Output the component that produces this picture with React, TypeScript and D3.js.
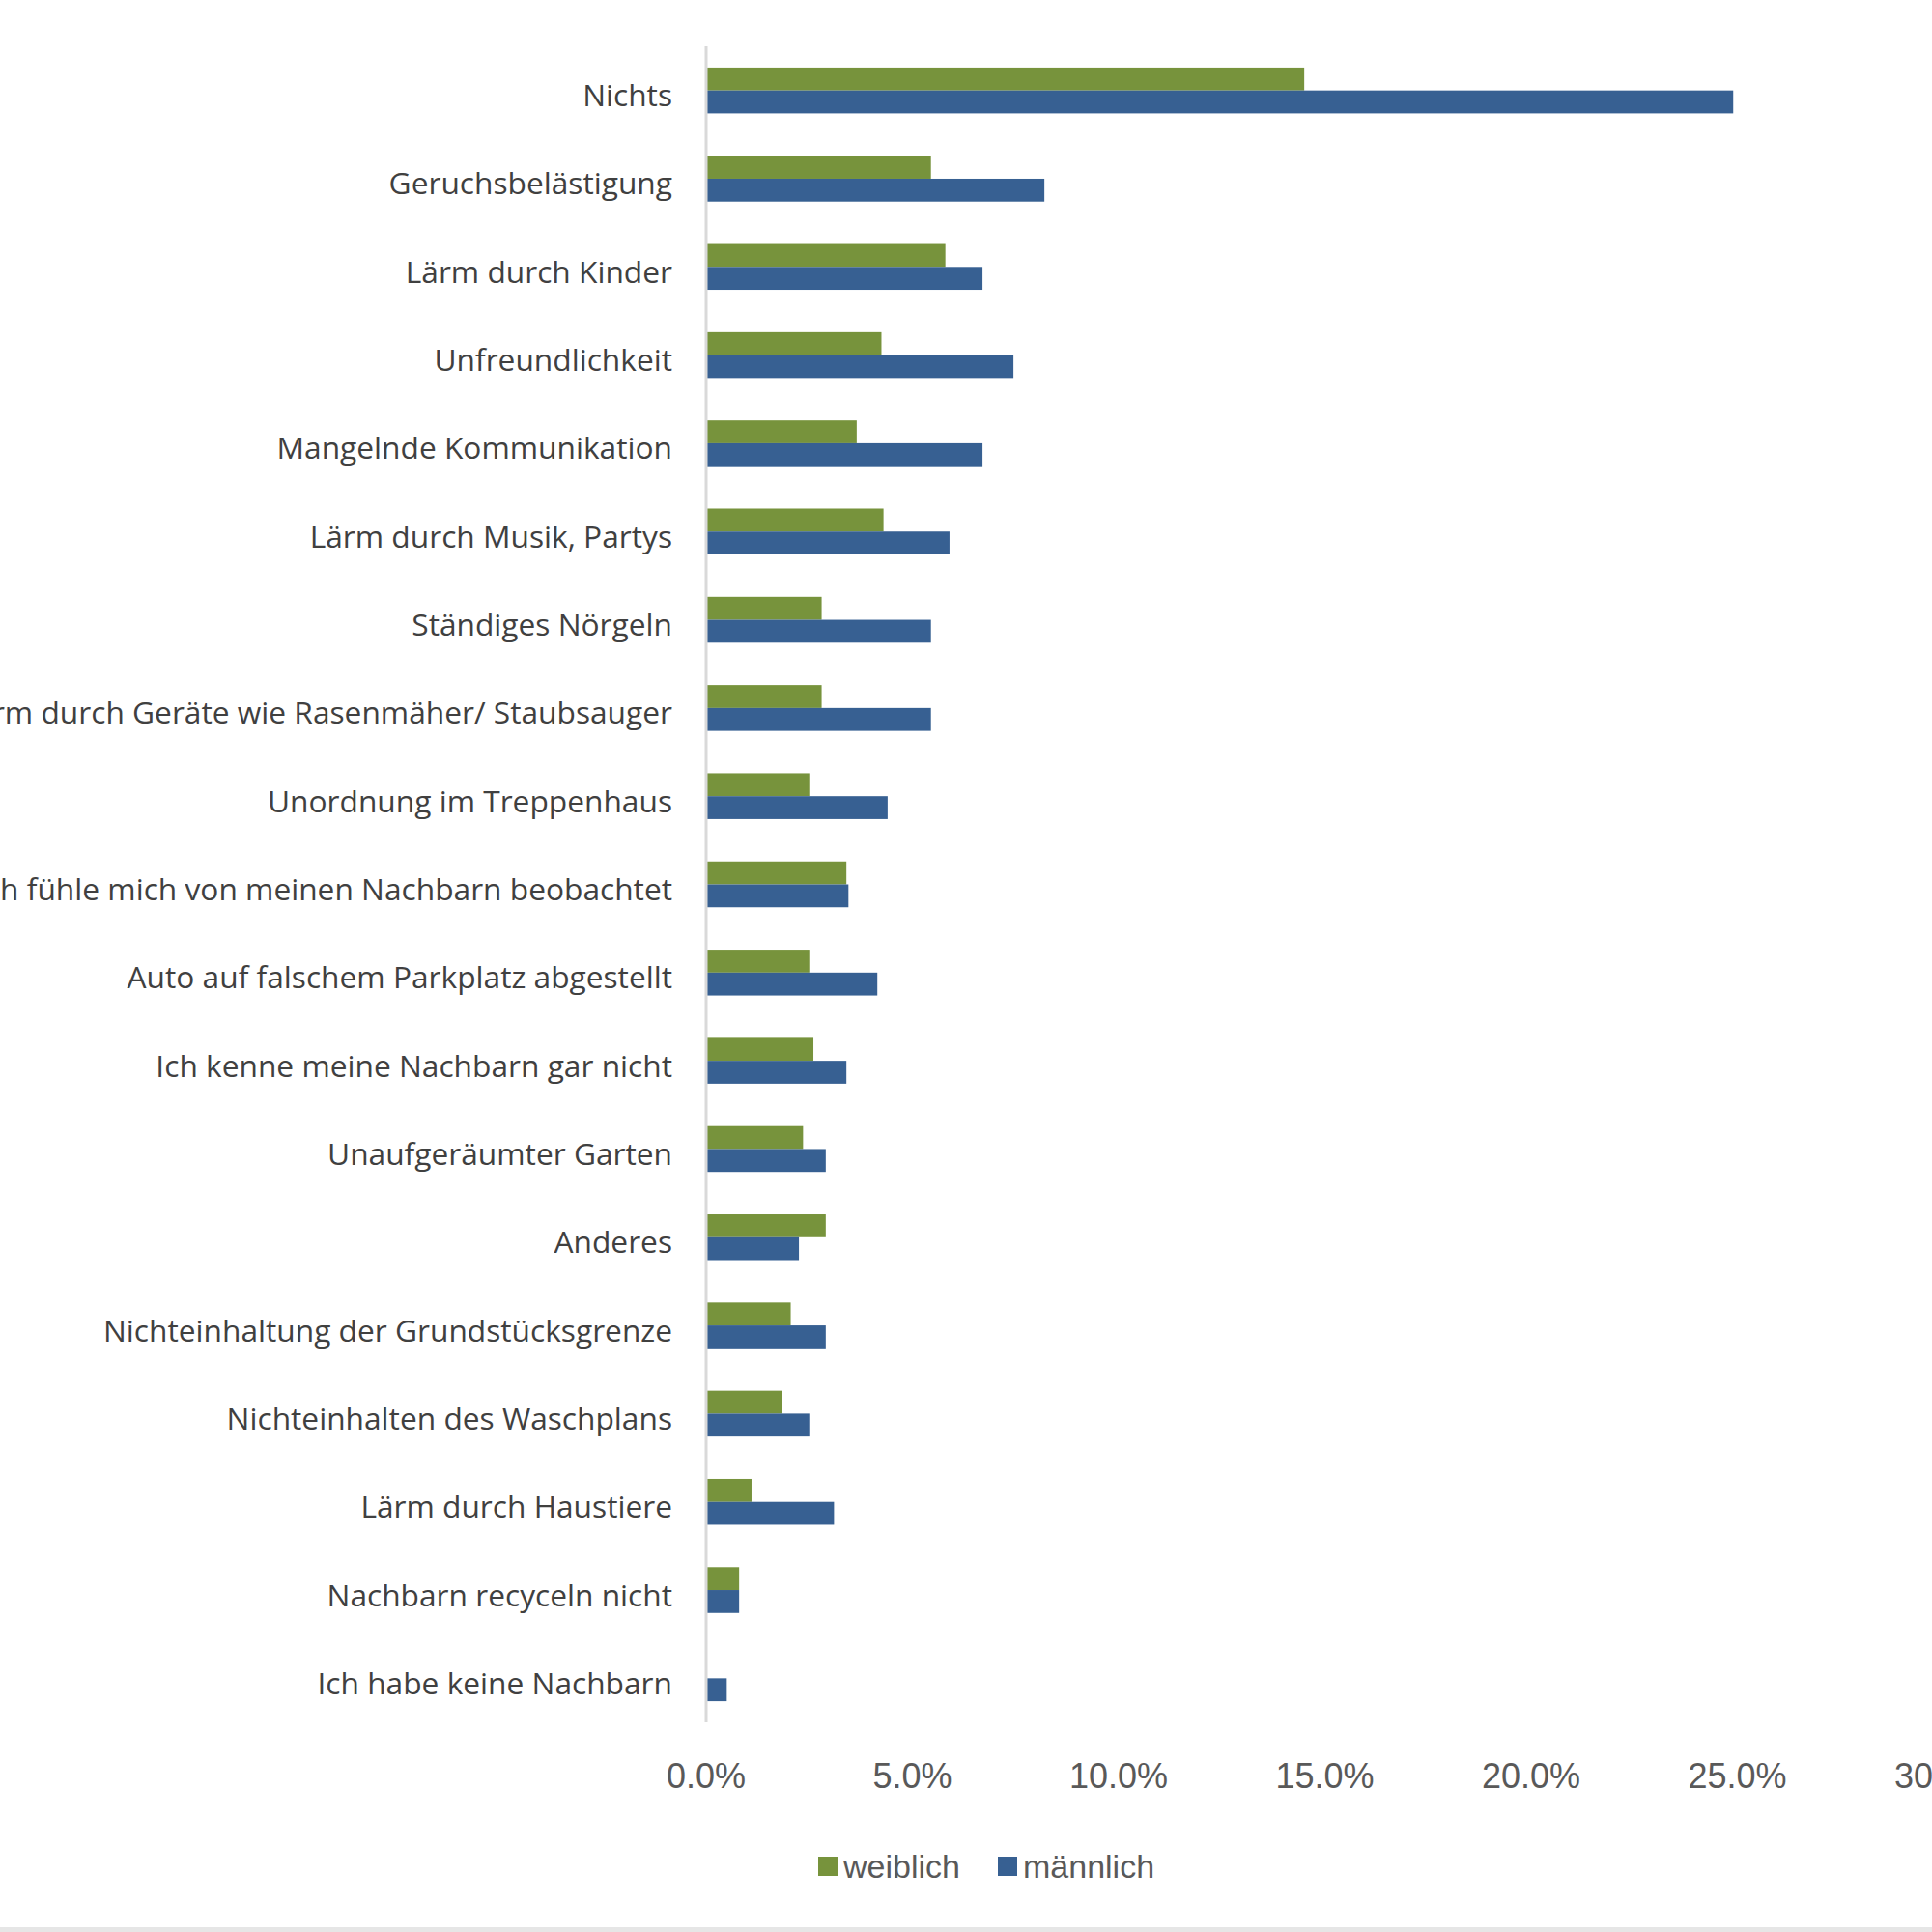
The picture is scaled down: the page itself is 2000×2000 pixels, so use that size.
import React from "react";
import * as d3 from "d3";

const categories = [
  "Nichts",
  "Geruchsbelästigung",
  "Lärm durch Kinder",
  "Unfreundlichkeit",
  "Mangelnde Kommunikation",
  "Lärm durch Musik, Partys",
  "Ständiges Nörgeln",
  "Lärm durch Geräte wie Rasenmäher/ Staubsauger",
  "Unordnung im Treppenhaus",
  "Ich fühle mich von meinen Nachbarn beobachtet",
  "Auto auf falschem Parkplatz abgestellt",
  "Ich kenne meine Nachbarn gar nicht",
  "Unaufgeräumter Garten",
  "Anderes",
  "Nichteinhaltung der Grundstücksgrenze",
  "Nichteinhalten des Waschplans",
  "Lärm durch Haustiere",
  "Nachbarn recyceln nicht",
  "Ich habe keine Nachbarn",
];

const weiblich = [14.5, 5.45, 5.8, 4.25, 3.65, 4.3, 2.8, 2.8, 2.5, 3.4, 2.5, 2.6, 2.35, 2.9, 2.05, 1.85, 1.1, 0.8, 0];
const maennlich = [24.9, 8.2, 6.7, 7.45, 6.7, 5.9, 5.45, 5.45, 4.4, 3.45, 4.15, 3.4, 2.9, 2.25, 2.9, 2.5, 3.1, 0.8, 0.5];

const xTicks = [0, 5, 10, 15, 20, 25, 30];
const seriesNames = ["weiblich", "männlich"];
const colors = ["#77933C", "#376092"];

export default function App() {
  const W = 2000;
  const H = 2000;
  const x = d3.scaleLinear().domain([0, 30]).range([731, 2012]);
  const y = d3.scaleBand<string>().domain(categories).range([48, 1783]).paddingInner(0.48).paddingOuter(0.24);
  const sub = d3.scaleBand<string>().domain(seriesNames).range([0, y.bandwidth()]);
  const series = [weiblich, maennlich];

  return (
    <svg width={W} height={H} style={{ position: "absolute", left: 0, top: 0, background: "#fff" }}>
      <rect x={0} y={0} width={W} height={H} fill="#fff" />
      {series.map((vals, si) =>
        vals.map((v, i) =>
          v > 0 ? (
            <rect
              key={`${si}-${i}`}
              x={x(0)}
              y={(y(categories[i]) as number) + (sub(seriesNames[si]) as number)}
              width={x(v) - x(0)}
              height={sub.bandwidth()}
              fill={colors[si]}
            />
          ) : null
        )
      )}
      <line x1={x(0)} x2={x(0)} y1={48} y2={1783} stroke="#D9D9D9" strokeWidth={3} />
      {categories.map((c) => (
        <text
          key={c}
          x={696}
          y={(y(c) as number) + y.bandwidth() / 2 + 4}
          textAnchor="end"
          dominantBaseline="central"
          fontFamily="Open Sans"
          fontSize={31.7}
          fill="#404040"
        >
          {c}
        </text>
      ))}
      {xTicks.map((t) => (
        <text
          key={t}
          x={x(t)}
          y={1838}
          textAnchor="middle"
          dominantBaseline="central"
          fontFamily="Liberation Sans"
          fontSize={36}
          fill="#595959"
        >
          {d3.format(".1f")(t) + "%"}
        </text>
      ))}
      {seriesNames.map((s, i) => {
        const lx = [847, 1033][i];
        return (
          <g key={s}>
            <rect x={lx} y={1922} width={20} height={20} fill={colors[i]} />
            <text x={lx + 26} y={1932} dominantBaseline="central" fontFamily="Liberation Sans" fontSize={34} fill="#595959">
              {s}
            </text>
          </g>
        );
      })}
      <rect x={0} y={1995} width={W} height={5} fill="#E6E6E6" />
    </svg>
  );
}
